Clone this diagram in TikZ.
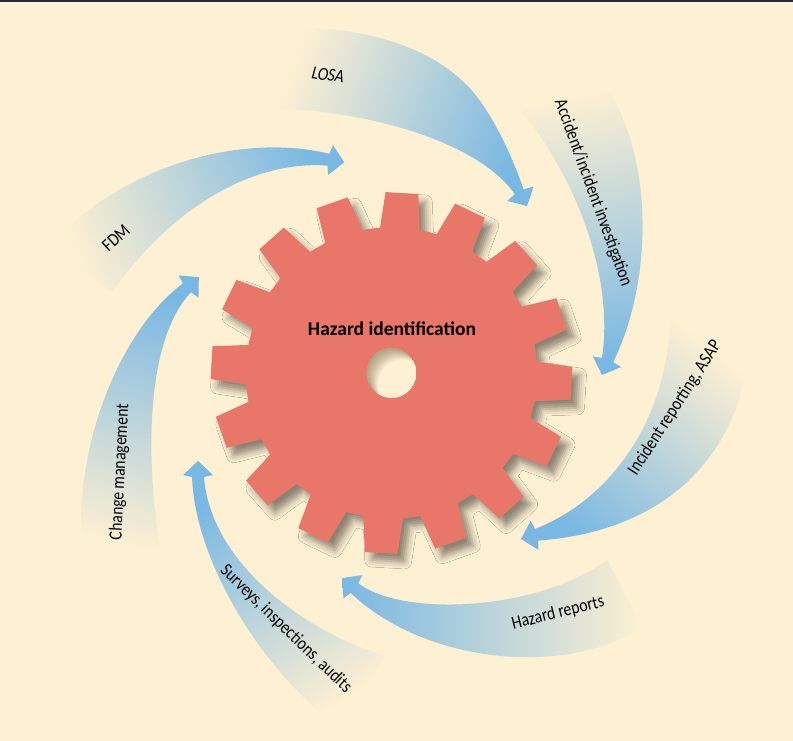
\documentclass[tikz,border=0pt]{standalone}
\usepackage{fontspec}
\setmainfont{Carlito}
\newfontfamily\bandfont{Carlito}[FakeStretch=0.85]
\usetikzlibrary{shadows.blur}
\definecolor{paper}{HTML}{FEF0D2}
\definecolor{cogred}{HTML}{E8776A}
\definecolor{flowblue}{HTML}{78B8E3}
\definecolor{topbar}{HTML}{2A2540}
\definecolor{shadowbrown}{HTML}{5A4A2A}
\tikzset{
  band/.style={left color=paper, right color=flowblue, shading angle=#1},
  bandtext/.style={font=\bandfont\fontsize{18.5}{20}\selectfont, inner sep=0pt},
  cog/.style={fill=cogred,
    blur shadow={shadow xshift=7pt, shadow yshift=-8pt, shadow blur radius=7pt, shadow opacity=45}},
}

\begin{document}
\begin{tikzpicture}[x=1pt,y=-1pt]
		%%%%% START %%%%%
		\useasboundingbox (0,0) rectangle (793,741);
		\fill[paper] (0,0) rectangle (793,741);
		\fill[topbar] (0,0) rectangle (793,2.5);
		
		% LOSA
		\shade[band=70] (270,27) .. controls (380,24) and (445,55) .. (478,98) .. controls (500,128) and (515,165) .. (523.7,189.5) -- (533.5,186.5) -- (527,206) -- (507.1,200.9) -- (514.9,194.3) .. controls (485,150) and (390,112) .. (270,108) -- cycle;
		% accident/incident investigation
		\shade[band=10] (600,80) .. controls (650,140) and (658,270) .. (613.2,362.1) -- (621,367.1) -- (602,375) -- (592.8,356.6) -- (602,357.9) .. controls (615,270) and (570,170) .. (522,112) -- cycle;
		% incident reporting
		\shade[band=-40] (750,330) .. controls (748,440) and (680,530) .. (538.1,540.6) -- (538.5,549.9) -- (521,539) -- (530.7,520.7) -- (534.9,529) .. controls (610,500) and (668,420) .. (670,318) -- cycle;
		% hazard reports
		\shade[band=270] (643,627) .. controls (560,680) and (420,660) .. (350.7,592.8) -- (343.5,598.5) -- (342,578) -- (362.4,575.1) -- (358.3,583.4) .. controls (405,618) and (540,610) .. (607,560) -- cycle;
		% surveys
		\shade[band=216] (342,730) .. controls (260,670) and (195,560) .. (192,477) -- (183,475) -- (198,461) -- (213,475) -- (204,477) .. controls (210,560) and (300,630) .. (385,656) -- cycle;
		% change management
		\shade[band=166] (83,562) .. controls (70,450) and (120,330) .. (183,283.4) -- (178.5,275.4) -- (198.8,277.1) -- (198.5,297.6) -- (191,292.2) .. controls (150,335) and (143,440) .. (160,550) -- cycle;
		% FDM
		\shade[band=112] (48,248) .. controls (110,175) and (230,130) .. (329.5,153.8) -- (332.9,145.2) -- (344.3,162.3) -- (328.1,174.9) -- (327.5,165.6) .. controls (250,160) and (170,210) .. (112,292) -- cycle;
		
		% gear
		\begin{scope}[shift={(391.5,373)}]
			\path[cog] (-4.5:146) \foreach \a in {3.3,25.8,...,340.8} { -- (\a-7.8:146) -- (\a-5.2:181) -- (\a+5.2:181) -- (\a+7.8:146) } -- cycle;
			\begin{scope}
				\clip (0,0) circle (25);
				\fill[paper] (0,0) circle (25);
				\foreach \s in {1,...,8}
					\fill[shadowbrown, opacity=0.07, even odd rule] (-30,-30) rectangle (30,30) (\s*1.4,\s*1.4) circle (25);
			\end{scope}
		\end{scope}
		
		\node[font=\bfseries\fontsize{19.5}{22}\selectfont, inner sep=0pt] (hazid) at (392,329) {Hazard identification};
		
		\node[bandtext, font=\bandfont\itshape\fontsize{18.5}{20}\selectfont, rotate=-9] (losa) at (328,75) {LOSA};
		\node[bandtext, rotate=-70] (accident) at (593,193) {Accident/incident investigation};
		\node[bandtext, rotate=57] (increp) at (675,408) {Incident reporting, ASAP};
		\node[bandtext, rotate=14] (hazrep) at (558,613) {Hazard reports};
		\node[bandtext, rotate=-44] (surveys) at (286,629) {Surveys, inspections, audits};
		\node[bandtext, rotate=87] (change) at (120,472) {Change management};
		\node[bandtext, rotate=42] (fdm) at (116,238) {FDM};
		%%%%% END %%%%%
\end{tikzpicture}
\end{document}
